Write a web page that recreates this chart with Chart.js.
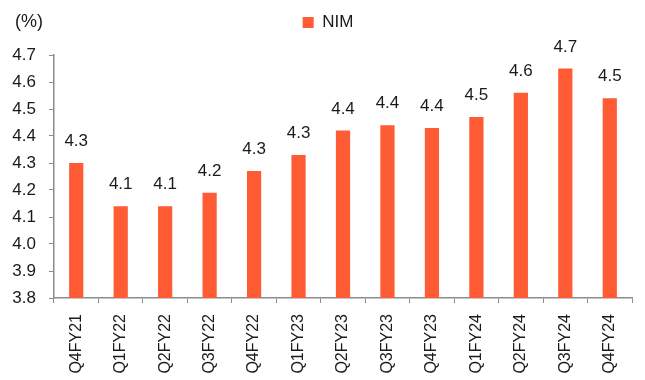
<!DOCTYPE html>
<html>
<head>
<meta charset="utf-8">
<script src="https://cdn.jsdelivr.net/npm/chart.js@4.4.1/dist/chart.umd.min.js"></script>
<style>
  html, body { margin: 0; padding: 0; background: #ffffff; }
  #wrap { width: 645px; height: 380px; position: relative; }
</style>
</head>
<body>
<div id="wrap"><canvas id="c" width="645" height="380"></canvas></div>
<script>
const categories = ["Q4FY21","Q1FY22","Q2FY22","Q3FY22","Q4FY22","Q1FY23","Q2FY23","Q3FY23","Q4FY23","Q1FY24","Q2FY24","Q3FY24","Q4FY24"];
const nimValues = [4.30, 4.14, 4.14, 4.19, 4.27, 4.33, 4.42, 4.44, 4.43, 4.47, 4.56, 4.65, 4.54];
const seriesName = "NIM";
const yTicks = [3.8, 3.9, 4.0, 4.1, 4.2, 4.3, 4.4, 4.5, 4.6, 4.7];
const unitLabel = "(%)";

const FONT = "'Liberation Sans', Arial, sans-serif";
const BAR_COLOR = "#FF5B34";
const TEXT_COLOR = "#1a1a1a";
const AXIS_COLOR = "#8c8c8c";

const legendSpacer = {
  id: "legendSpacer",
  beforeUpdate(chart) {
    const lg = chart.legend;
    if (lg && !lg._spaced) {
      const orig = lg.fit.bind(lg);
      lg.fit = function () { orig(); this.height += 14; };
      lg._spaced = true;
    }
  },
  afterLayout(chart) {
    const lg = chart.legend;
    if (lg) { lg.left += 12; lg.right += 12; }
  }
};

const valueLabels = {
  id: "valueLabels",
  afterDatasetsDraw(chart) {
    const ctx = chart.ctx;
    const meta = chart.getDatasetMeta(0);
    ctx.save();
    ctx.font = "17px " + FONT;
    ctx.fillStyle = TEXT_COLOR;
    ctx.textAlign = "center";
    ctx.textBaseline = "alphabetic";
    meta.data.forEach((bar, i) => {
      ctx.fillText((Math.round(nimValues[i] * 10) / 10).toFixed(1), bar.x, bar.y - 17);
    });
    ctx.restore();
  }
};

const unitText = {
  id: "unitText",
  afterDraw(chart) {
    const ctx = chart.ctx;
    ctx.save();
    ctx.font = "18px " + FONT;
    ctx.fillStyle = TEXT_COLOR;
    ctx.textAlign = "left";
    ctx.textBaseline = "alphabetic";
    ctx.fillText(unitLabel, 15, 27);
    ctx.restore();
  }
};

new Chart(document.getElementById("c"), {
  type: "bar",
  data: {
    labels: categories,
    datasets: [{
      label: seriesName,
      data: nimValues,
      backgroundColor: BAR_COLOR,
      borderWidth: 0,
      categoryPercentage: 1.0,
      barPercentage: 0.32
    }]
  },
  options: {
    responsive: false,
    animation: false,
    devicePixelRatio: 1,
    layout: { padding: { left: 0, right: 13, top: 4, bottom: 0 } },
    plugins: {
      legend: {
        display: true,
        position: "top",
        align: "center",
        labels: {
          boxWidth: 11,
          boxHeight: 11,
          padding: 10,
          color: TEXT_COLOR,
          font: { family: FONT, size: 17 }
        }
      },
      tooltip: { enabled: false }
    },
    scales: {
      x: {
        offset: true,
        grid: {
          display: true,
          offset: true,
          drawOnChartArea: false,
          drawTicks: true,
          tickLength: 5,
          color: AXIS_COLOR
        },
        border: { display: true, color: AXIS_COLOR, width: 1.5 },
        ticks: {
          color: TEXT_COLOR,
          font: { family: FONT, size: 16 },
          minRotation: 90,
          maxRotation: 90,
          padding: 11,
          autoSkip: false
        },
        afterFit(scale) { scale.height = 82; }
      },
      y: {
        min: 3.8,
        max: 4.7,
        afterBuildTicks(scale) { scale.ticks = yTicks.map(v => ({ value: v })); },
        grid: {
          display: true,
          drawOnChartArea: false,
          drawTicks: true,
          tickLength: 5,
          color: AXIS_COLOR
        },
        border: { display: true, color: AXIS_COLOR, width: 1.5 },
        ticks: {
          color: TEXT_COLOR,
          font: { family: FONT, size: 17 },
          padding: 13,
          callback: (v) => Number(v).toFixed(1)
        },
        afterFit(scale) { scale.width = 54; }
      }
    }
  },
  plugins: [legendSpacer, valueLabels, unitText]
});
</script>
</body>
</html>
